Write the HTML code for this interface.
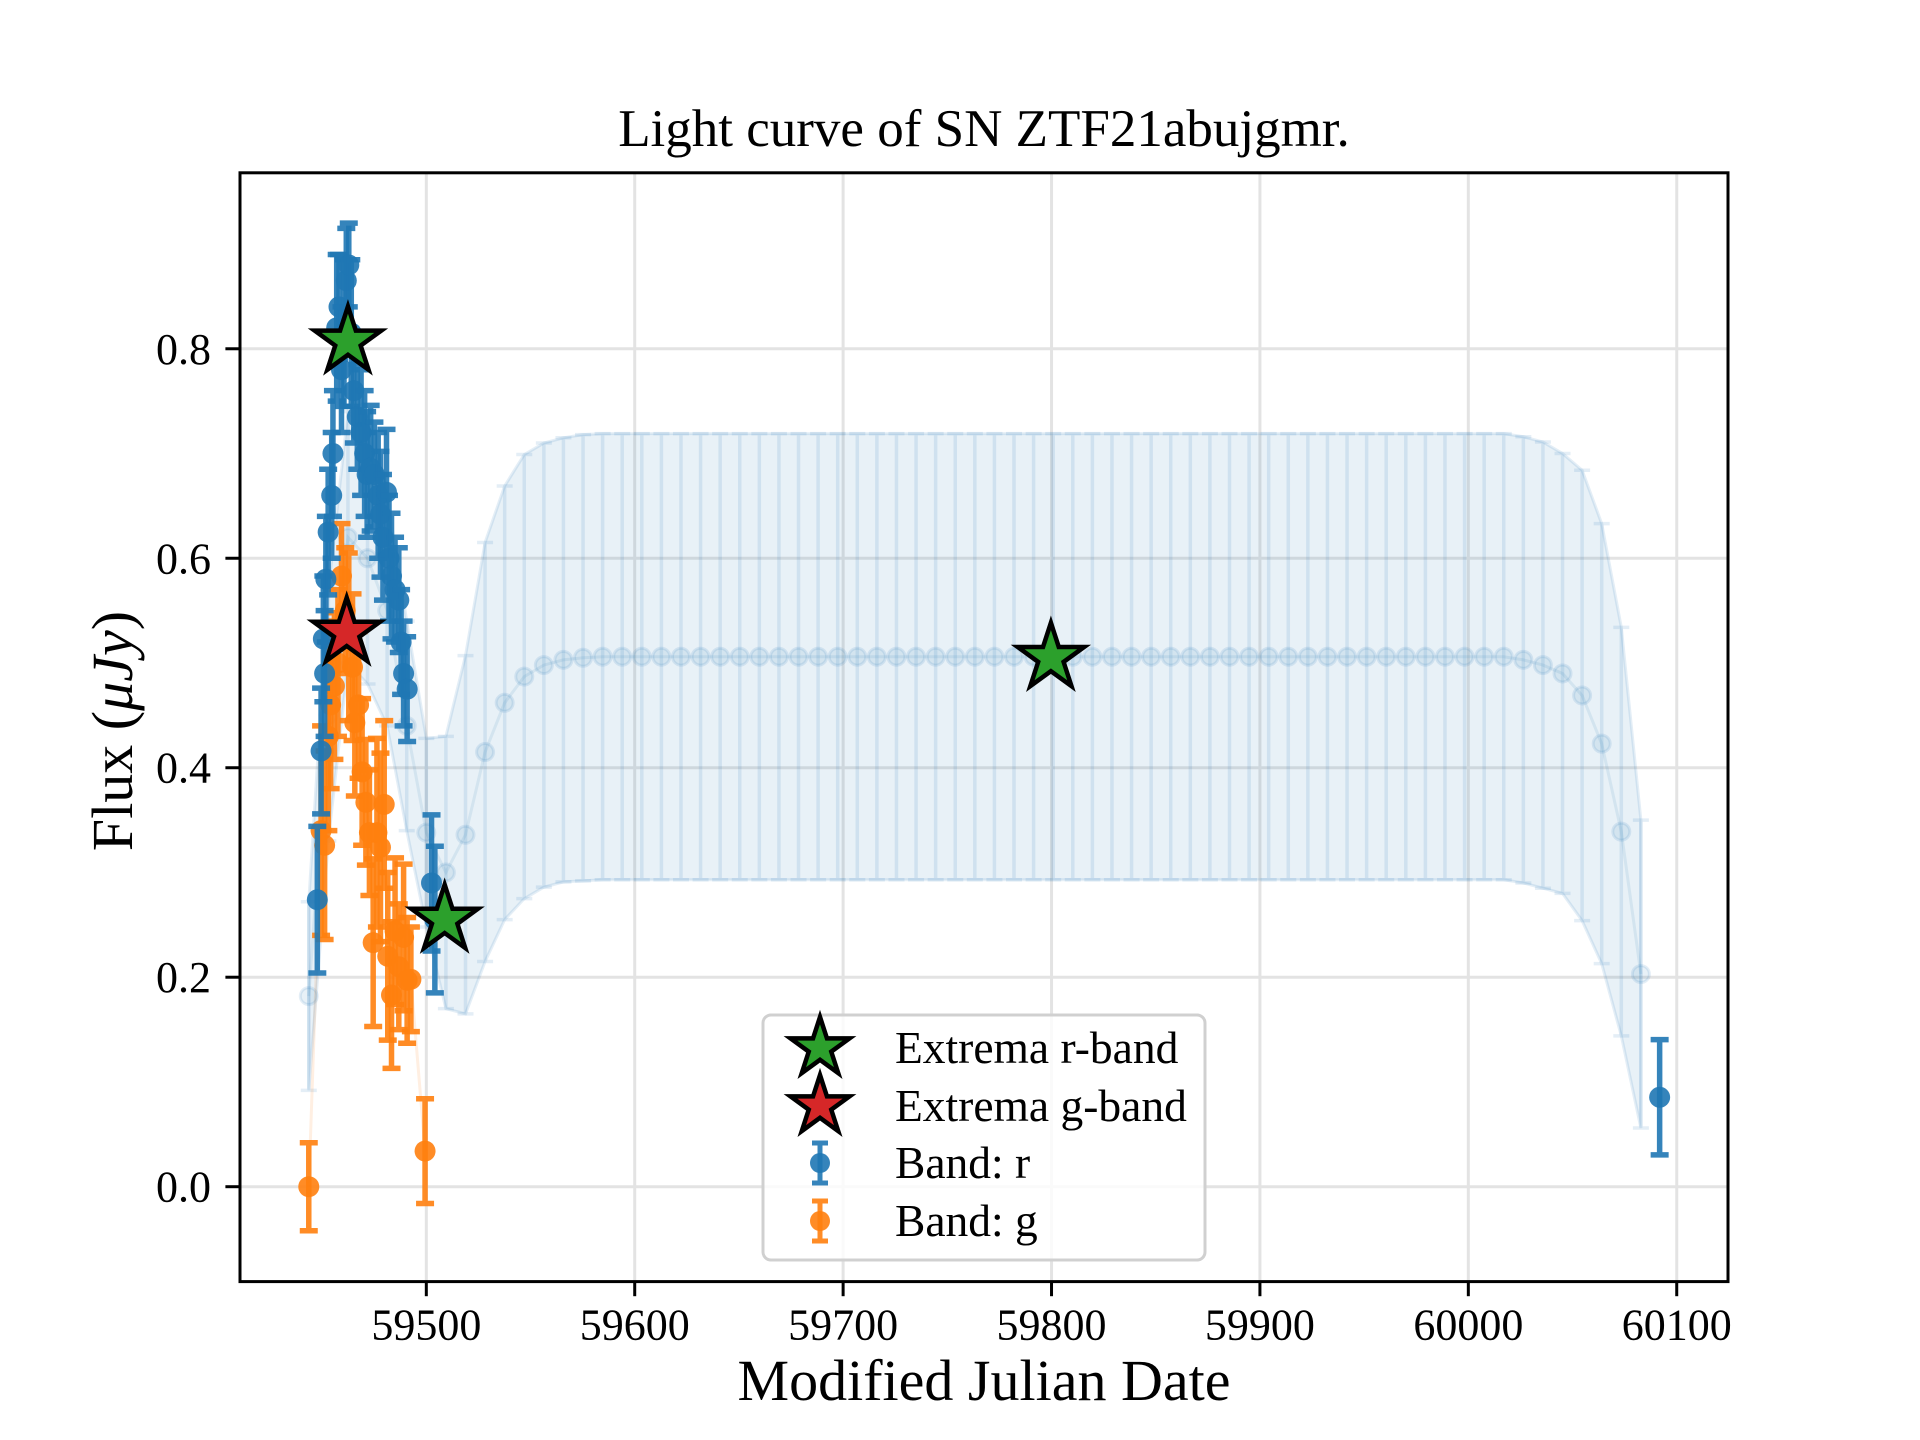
<!DOCTYPE html>
<html><head><meta charset="utf-8"><style>
html,body{margin:0;padding:0;background:#fff;}
svg{display:block;font-family:"Liberation Serif",serif;}
</style></head><body>
<svg id="chart" width="1920" height="1440" viewBox="0 0 1920 1440" xmlns="http://www.w3.org/2000/svg">
<rect width="1920" height="1440" fill="#fff"/>
<g id="grid"></g>
<g id="model"></g>
<g id="data"></g>
<g id="stars"></g>
<rect x="240" y="172.8" width="1488" height="1108.8" fill="none" stroke="#000" stroke-width="3"/>
<g id="ticks"></g>
<text x="984" y="146" text-anchor="middle" font-size="53">Light curve of SN ZTF21abujgmr.</text>
<text x="984" y="1400" text-anchor="middle" font-size="58">Modified Julian Date</text>
<text transform="translate(132,731) rotate(-90)" text-anchor="middle" font-size="58">Flux (<tspan font-style="italic">μJy</tspan>)</text>
<g id="legend"></g>
</svg>
<script>
const xTicks = [59500, 59600, 59700, 59800, 59900, 60000, 60100];
const yTicks = [0.0, 0.2, 0.4, 0.6, 0.8];
const yTickLabels = ["0.0", "0.2", "0.4", "0.6", "0.8"];

const modelMjd = [59443.6,59453.0,59462.4,59471.8,59481.2,59490.6,59500.0,59509.4,59518.8,59528.2,59537.6,59547.0,59556.4,59565.8,59575.2,59584.6,59594.0,59603.4,59612.8,59622.2,59631.6,59641.0,59650.4,59659.8,59669.2,59678.6,59688.0,59697.4,59706.8,59716.2,59725.6,59735.0,59744.4,59753.8,59763.2,59772.6,59782.0,59791.4,59800.8,59810.2,59819.6,59829.0,59838.4,59847.8,59857.2,59866.6,59876.0,59885.4,59894.8,59904.2,59913.6,59923.0,59932.4,59941.8,59951.2,59960.6,59970.0,59979.4,59988.8,59998.2,60007.6,60017.0,60026.4,60035.8,60045.2,60054.6,60064.0,60073.4,60082.8];
const modelFlux = [0.182,0.45,0.62,0.60,0.55,0.44,0.338,0.30,0.336,0.415,0.462,0.487,0.498,0.503,0.505,0.506,0.506,0.506,0.506,0.506,0.506,0.506,0.506,0.506,0.506,0.506,0.506,0.506,0.506,0.506,0.506,0.506,0.506,0.506,0.506,0.506,0.506,0.506,0.506,0.506,0.506,0.506,0.506,0.506,0.506,0.506,0.506,0.506,0.506,0.506,0.506,0.506,0.506,0.506,0.506,0.506,0.506,0.506,0.506,0.506,0.506,0.506,0.503,0.498,0.49,0.469,0.423,0.339,0.203];
const modelErr = [0.09,0.12,0.12,0.12,0.11,0.1,0.09,0.13,0.171,0.2,0.207,0.212,0.212,0.212,0.213,0.213,0.213,0.213,0.213,0.213,0.213,0.213,0.213,0.213,0.213,0.213,0.213,0.213,0.213,0.213,0.213,0.213,0.213,0.213,0.213,0.213,0.213,0.213,0.213,0.213,0.213,0.213,0.213,0.213,0.213,0.213,0.213,0.213,0.213,0.213,0.213,0.213,0.213,0.213,0.213,0.213,0.213,0.213,0.213,0.213,0.213,0.213,0.213,0.213,0.21,0.215,0.21,0.195,0.147];

const rMjd = [59447.7,59449.5,59450.6,59451.2,59451.8,59452.9,59454.6,59455.2,59457.0,59458.1,59459.3,59460.5,59461.6,59462.8,59464.0,59465.2,59466.9,59468.7,59470.4,59471.6,59473.3,59475.1,59476.9,59478.0,59479.2,59480.9,59482.1,59483.3,59485.0,59486.8,59487.9,59489.1,59490.8,59502.5,59504.1,60091.8];
const rFlux = [0.274,0.416,0.523,0.49,0.58,0.625,0.66,0.70,0.82,0.84,0.78,0.815,0.865,0.88,0.815,0.76,0.735,0.72,0.70,0.68,0.686,0.68,0.66,0.642,0.62,0.663,0.60,0.583,0.57,0.56,0.52,0.49,0.475,0.29,0.255,0.0854];
const rErr = [0.07,0.06,0.06,0.06,0.06,0.06,0.06,0.06,0.07,0.05,0.06,0.07,0.05,0.04,0.07,0.05,0.05,0.06,0.06,0.06,0.06,0.05,0.06,0.06,0.06,0.06,0.06,0.06,0.05,0.05,0.05,0.05,0.05,0.065,0.07,0.055];

const gMjd = [59443.6,59449.5,59451.2,59453.0,59454.1,59455.9,59457.6,59459.3,59461.1,59462.8,59464.6,59465.7,59467.5,59469.2,59471.0,59472.7,59474.5,59476.3,59478.0,59479.8,59481.5,59483.3,59485.0,59486.8,59489.1,59490.8,59492.6,59499.4];
const gFlux = [0.0,0.34,0.326,0.43,0.46,0.478,0.50,0.583,0.55,0.525,0.496,0.443,0.46,0.396,0.367,0.338,0.233,0.338,0.324,0.365,0.22,0.183,0.244,0.21,0.238,0.197,0.198,0.034];
const gErr = [0.042,0.1,0.09,0.09,0.08,0.07,0.07,0.05,0.06,0.08,0.07,0.07,0.07,0.07,0.06,0.06,0.08,0.09,0.09,0.08,0.08,0.07,0.07,0.06,0.07,0.06,0.05,0.05];

const rStarMjd = [59462.4, 59508.8, 59799.7];
const rStarFlux = [0.807, 0.255, 0.505];
const gStarMjd = [59461.8];
const gStarFlux = [0.529];

const NS = "http://www.w3.org/2000/svg";
const L = 240, R = 1728, T = 172.8, B = 1281.6;
const XMIN = 59410.6, XMAX = 60124.6, YMIN = -0.0906, YMAX = 0.968;
const sx = v => L + (v - XMIN) / (XMAX - XMIN) * (R - L);
const sy = v => B - (v - YMIN) / (YMAX - YMIN) * (B - T);
function mk(tag, attrs, parent) {
  const e = document.createElementNS(NS, tag);
  for (const k in attrs) e.setAttribute(k, attrs[k]);
  parent.appendChild(e);
  return e;
}
const grid = document.getElementById('grid');
const ticks = document.getElementById('ticks');
xTicks.forEach(t => {
  const g = mk('line', {x1: sx(t), x2: sx(t), y1: T, y2: B, stroke: '#e3e3e3', 'stroke-width': 3}, grid);
  
  
  const tk = mk('line', {x1: sx(t), x2: sx(t), y1: B, y2: B + 14.6, stroke: '#000', 'stroke-width': 3}, ticks);
  
  
  const tx = mk('text', {x: sx(t), y: B + 58, 'text-anchor': 'middle', 'font-size': 44}, ticks);
  tx.textContent = String(t);
  
  
});
yTicks.forEach((t, i) => {
  const g = mk('line', {x1: L, x2: R, y1: sy(t), y2: sy(t), stroke: '#e3e3e3', 'stroke-width': 3}, grid);
  
  
  const tk = mk('line', {x1: L - 14.6, x2: L, y1: sy(t), y2: sy(t), stroke: '#000', 'stroke-width': 3}, ticks);
  
  
  const tx = mk('text', {x: L - 29, y: sy(t) + 15, 'text-anchor': 'end', 'font-size': 44}, ticks);
  tx.textContent = yTickLabels[i];
  
  
});

// model band
const model = document.getElementById('model');
let up = '', lo = '';
modelMjd.forEach((m, i) => {
  up += (i ? 'L' : 'M') + sx(m) + ',' + sy(modelFlux[i] + modelErr[i]);
});
for (let i = modelMjd.length - 1; i >= 0; i--) lo += 'L' + sx(modelMjd[i]) + ',' + sy(modelFlux[i] - modelErr[i]);
const band = mk('path', {d: up + lo + 'Z', fill: '#1f77b4', 'fill-opacity': 0.1, stroke: '#1f77b4', 'stroke-opacity': 0.12, 'stroke-width': 3}, model);


let ml = '';
modelMjd.forEach((m, i) => { ml += (i ? 'L' : 'M') + sx(m) + ',' + sy(modelFlux[i]); });
const mline = mk('path', {d: ml, fill: 'none', stroke: '#1f77b4', 'stroke-opacity': 0.1, 'stroke-width': 3}, model);


modelMjd.forEach((m, i) => {
  const x = sx(m);
  const e = mk('path', {d: `M${x},${sy(modelFlux[i] - modelErr[i])}V${sy(modelFlux[i] + modelErr[i])}M${x - 8},${sy(modelFlux[i] - modelErr[i])}h16M${x - 8},${sy(modelFlux[i] + modelErr[i])}h16`, stroke: '#1f77b4', 'stroke-opacity': 0.12, 'stroke-width': 3.5, fill: 'none'}, model);
  
  
  const c = mk('circle', {cx: x, cy: sy(modelFlux[i]), r: 8.5, fill: '#1f77b4', 'fill-opacity': 0.1, stroke: '#1f77b4', 'stroke-opacity': 0.12, 'stroke-width': 3}, model);
  
  
});

// data
const data = document.getElementById('data');
let gl = '';
gMjd.forEach((m, i) => { gl += (i ? 'L' : 'M') + sx(m) + ',' + sy(gFlux[i]); });
const gline = mk('path', {d: gl, fill: 'none', stroke: '#ff7f0e', 'stroke-opacity': 0.12, 'stroke-width': 3}, data);


function series(mjd, flux, err, color, name) {
  mjd.forEach((m, i) => {
    const x = sx(m), y1 = sy(flux[i] - err[i]), y2 = sy(flux[i] + err[i]);
    const e = mk('path', {d: `M${x},${y1}V${y2}M${x - 9},${y1}h18M${x - 9},${y2}h18`, stroke: color, 'stroke-opacity': 0.9, 'stroke-width': 5.5, fill: 'none'}, data);
    
    
    const c = mk('circle', {cx: x, cy: sy(flux[i]), r: 10.5, fill: color, 'fill-opacity': 0.9}, data);
    
    
  });
}
series(gMjd, gFlux, gErr, '#ff7f0e', 'g-band');
series(rMjd, rFlux, rErr, '#1f77b4', 'r-band');

function starPath(cx, cy, ro) {
  const ri = ro * 0.382; let d = '';
  for (let k = 0; k < 10; k++) {
    const a = -Math.PI / 2 + k * Math.PI / 5, r = k % 2 ? ri : ro;
    d += (k ? 'L' : 'M') + (cx + r * Math.cos(a)) + ',' + (cy + r * Math.sin(a));
  }
  return d + 'Z';
}
const stars = document.getElementById('stars');
rStarMjd.forEach((m, i) => {
  const s = mk('path', {d: starPath(sx(m), sy(rStarFlux[i]), 35), fill: '#2ca02c', stroke: '#000', 'stroke-width': 4.5, 'stroke-linejoin': 'miter'}, stars);
  
  
});
gStarMjd.forEach((m, i) => {
  const s = mk('path', {d: starPath(sx(m), sy(gStarFlux[i]), 35), fill: '#d62728', stroke: '#000', 'stroke-width': 4.5}, stars);
  
  
});

// legend
const lg = document.getElementById('legend');
const box = mk('rect', {x: 763, y: 1015, width: 442, height: 245, rx: 8, fill: '#fff', 'fill-opacity': 0.8, stroke: '#d0d0d0', 'stroke-width': 3}, lg);


const entries = [
  {y: 1048, label: 'Extrema r-band', kind: 'star', color: '#2ca02c'},
  {y: 1106, label: 'Extrema g-band', kind: 'star', color: '#d62728'},
  {y: 1163, label: 'Band: r', kind: 'err', color: '#1f77b4'},
  {y: 1221, label: 'Band: g', kind: 'err', color: '#ff7f0e'}
];
entries.forEach(en => {
  if (en.kind === 'star') {
    const s = mk('path', {d: starPath(820, en.y, 31), fill: en.color, stroke: '#000', 'stroke-width': 4.5}, lg);
    
    
  } else {
    const e = mk('path', {d: `M820,${en.y - 20}V${en.y + 20}M812,${en.y - 20}h16M812,${en.y + 20}h16`, stroke: en.color, 'stroke-width': 5, 'stroke-opacity': 0.9, fill: 'none'}, lg);
    
    
    const c = mk('circle', {cx: 820, cy: en.y, r: 10, fill: en.color, 'fill-opacity': 0.9}, lg);
    
    
  }
  const t = mk('text', {x: 895, y: en.y + 15, 'font-size': 45.5}, lg);
  t.textContent = en.label;
  
  
});
</script>
</body></html>
